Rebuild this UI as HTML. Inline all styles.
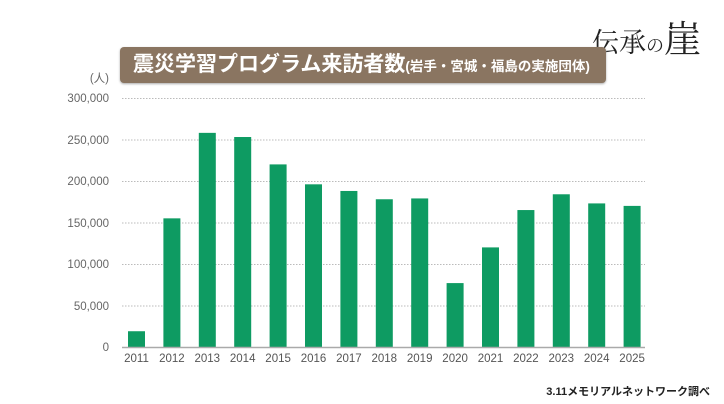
<!DOCTYPE html><html><head><meta charset="utf-8"><style>
body{margin:0;width:724px;height:404px;background:#fff;overflow:hidden;position:relative;font-family:"Liberation Sans","Noto Sans CJK JP",sans-serif}
.a{position:absolute}
</style></head><body>
<div class="a" style="left:592px;top:9px;font-family:'Noto Serif CJK SC',serif;font-size:27px;color:#222;white-space:nowrap">伝承<span style="font-size:18px">の</span><span style="font-size:37px">崖</span></div>
<div class="a" style="left:120px;top:47px;width:486px;height:36px;background:#8a7561;border-radius:4px;box-shadow:0 1px 2px #aaa"></div>
<div class="a" style="left:133px;top:50px;color:#fff;font-weight:bold;font-size:21px;white-space:nowrap;line-height:30px">震災学習プログラム来訪者数<span style="font-size:13.5px">(岩手・宮城・福島の実施団体)</span></div>
<svg class="a" style="left:0;top:0" width="724" height="404">
<g font-family="Liberation Sans,sans-serif" font-size="11.5" fill="#666" text-anchor="end">
<text x="109" y="82">(人)</text>
<text x="109" y="102">300,000</text><text x="109" y="144">250,000</text><text x="109" y="185">200,000</text><text x="109" y="227">150,000</text><text x="109" y="268">100,000</text><text x="109" y="310">50,000</text><text x="109" y="351">0</text>
</g>
<g stroke="#bbb" stroke-dasharray="1.5,1.5">
<line x1="122" x2="645" y1="98.5" y2="98.5"/><line x1="122" x2="645" y1="140" y2="140"/><line x1="122" x2="645" y1="181.5" y2="181.5"/><line x1="122" x2="645" y1="223" y2="223"/><line x1="122" x2="645" y1="264.5" y2="264.5"/><line x1="122" x2="645" y1="306" y2="306"/>
</g>
<g fill="#0e9b62" id="b"></g>
<line x1="122" x2="645" y1="347.5" y2="347.5" stroke="#aaa" stroke-width="1.5"/>
<g font-family="Liberation Sans,sans-serif" font-size="11.5" fill="#555" text-anchor="middle" id="y"></g>
<text x="710" y="395" text-anchor="end" font-size="11" font-weight="bold" fill="#222" font-family="Liberation Sans,Noto Sans CJK JP,sans-serif">3.11メモリアルネットワーク調べ</text>
</svg>
<script>
var v=[19000,155000,258000,253000,220000,196000,188000,178000,179000,77000,120000,165000,184000,173000,170000];
var b=document.getElementById('b'),y=document.getElementById('y'),ns='http://www.w3.org/2000/svg';
v.forEach(function(d,i){var cx=136.5+i*35.4,h=d/50000*41.5;
var r=document.createElementNS(ns,'rect');r.setAttribute('x',cx-8.5);r.setAttribute('width',17);r.setAttribute('y',347-h);r.setAttribute('height',h);b.appendChild(r);
var t=document.createElementNS(ns,'text');t.setAttribute('x',cx);t.setAttribute('y',362);t.textContent=2011+i;y.appendChild(t);});
</script>
</body></html>
